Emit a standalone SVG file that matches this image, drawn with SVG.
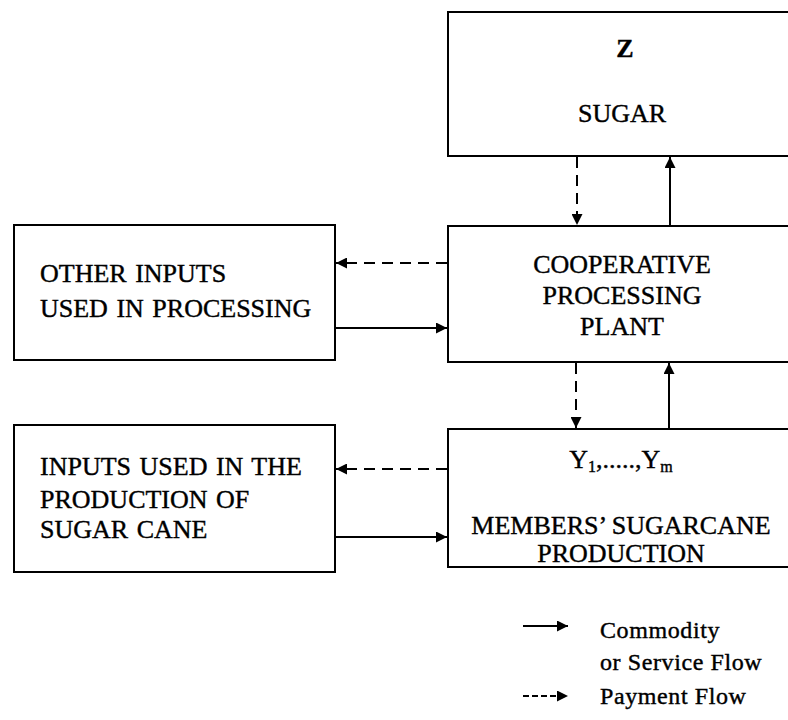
<svg xmlns="http://www.w3.org/2000/svg" width="788" height="720" viewBox="0 0 788 720">
<style>
.box{fill:#fff;stroke:#000;stroke-width:2}
.t{font-family:"Liberation Serif","Times New Roman",serif;font-size:26px;fill:#000;stroke:#000;stroke-width:0.4}
.c{text-anchor:middle}
.s{fill:none;stroke:#000;stroke-width:2}
.d{fill:none;stroke:#000;stroke-width:2;stroke-dasharray:11 7}
.lg{font-family:"Liberation Serif","Times New Roman",serif;font-size:24px;fill:#000;stroke:#000;stroke-width:0.4;letter-spacing:0.6px}
</style>
<defs>
<marker id="ah" viewBox="0 0 10 10" refX="10" refY="5" markerWidth="7" markerHeight="5.5" markerUnits="strokeWidth" orient="auto">
<path d="M0,0 L10,5 L0,10 Z" fill="#000"/>
</marker>
</defs>
<rect width="788" height="720" fill="#fff"/>
<g id="sugar">
<rect class="box" x="448" y="12" width="360" height="144"/>
<text class="t c" x="625" y="57" font-weight="bold">Z</text>
<text class="t c" x="622" y="122">SUGAR</text>
</g>
<g id="plant">
<rect class="box" x="448" y="226" width="360" height="136"/>
<text class="t c" x="622" y="273">COOPERATIVE</text>
<text class="t c" x="622" y="304">PROCESSING</text>
<text class="t c" x="622" y="335">PLANT</text>
</g>
<g id="members">
<rect class="box" x="448" y="429" width="360" height="138"/>
<text class="t c" x="621" y="468">Y<tspan font-size="16" dy="4">1</tspan><tspan dy="-4">,.....,Y</tspan><tspan font-size="16" dy="4">m</tspan></text>
<text class="t c" x="621" y="534" font-size="25">MEMBERS’ SUGARCANE</text>
<text class="t c" x="621" y="562" font-size="25">PRODUCTION</text>
</g>
<g id="other-inputs">
<rect class="box" x="14" y="225" width="321" height="135"/>
<text class="t" x="40" y="282" word-spacing="2">OTHER INPUTS</text>
<text class="t" x="40" y="317" word-spacing="2">USED IN PROCESSING</text>
</g>
<g id="cane-inputs">
<rect class="box" x="14" y="425" width="321" height="147"/>
<text class="t" x="40" y="475" word-spacing="2">INPUTS USED IN THE</text>
<text class="t" x="40" y="508" word-spacing="2">PRODUCTION OF</text>
<text class="t" x="40" y="538" word-spacing="2">SUGAR CANE</text>
</g>
<g id="connectors">
<line class="d" x1="577" y1="157" x2="577" y2="225" marker-end="url(#ah)"/>
<line class="s" x1="670" y1="225" x2="670" y2="157" marker-end="url(#ah)"/>
<line class="d" x1="576" y1="363" x2="576" y2="428" marker-end="url(#ah)"/>
<line class="s" x1="669" y1="428" x2="669" y2="363" marker-end="url(#ah)"/>
<line class="d" x1="447" y1="263" x2="336" y2="263" marker-end="url(#ah)"/>
<line class="s" x1="336" y1="328" x2="447" y2="328" marker-end="url(#ah)"/>
<line class="d" x1="447" y1="469" x2="336" y2="469" marker-end="url(#ah)"/>
<line class="s" x1="336" y1="537" x2="447" y2="537" marker-end="url(#ah)"/>
</g>
<g id="legend">
<line class="s" x1="523" y1="626" x2="568" y2="626" marker-end="url(#ah)"/>
<line x1="523" y1="696" x2="568" y2="696" stroke="#000" stroke-width="2" stroke-dasharray="6 3" marker-end="url(#ah)"/>
<text class="lg" x="600" y="638">Commodity</text>
<text class="lg" x="600" y="670">or Service Flow</text>
<text class="lg" x="600" y="704">Payment Flow</text>
</g>
</svg>
